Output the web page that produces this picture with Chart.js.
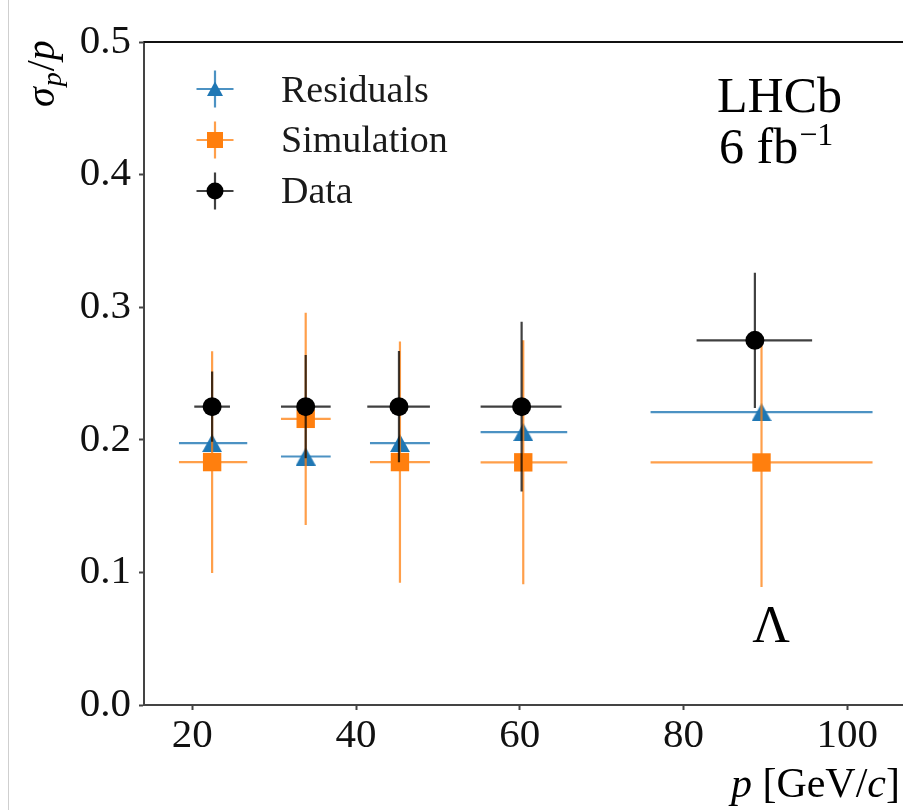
<!DOCTYPE html>
<html><head><meta charset="utf-8">
<script src="https://cdn.jsdelivr.net/npm/chart.js@4"></script>
<style>html,body{margin:0;padding:0;background:#fff;overflow:hidden}#wrap{position:relative;width:903px;height:810px}</style>
</head><body><div id="wrap"><canvas id="c" width="903" height="810"></canvas></div>
<script>
// ---- data ----
const seriesNames = ['Residuals', 'Simulation', 'Data'];
// Residuals & Simulation share the momentum bins
const binP      = [22.42, 33.85, 45.36, 60.42, 89.52];
const binPLow   = [4.05, 3.02, 3.66, 5.21, 13.55];
const binPHigh  = [4.29, 3.05, 3.66, 5.37, 13.56];
const resSigma    = [0.1975, 0.1874, 0.1975, 0.2058, 0.2208];
const resSigmaErr = [0.004, 0.004, 0.004, 0.004, 0.004];
const simSigma    = [0.1832, 0.2158, 0.1832, 0.1830, 0.1829];
const simSigmaErr = [0.0836, 0.0800, 0.0910, 0.0920, 0.0940];
const dataP       = [22.42, 33.85, 45.24, 60.22, 88.71];
const dataPLow    = [2.18, 3.02, 3.87, 5.01, 7.12];
const dataPHigh   = [2.18, 3.05, 3.78, 4.88, 6.99];
const dataSigma    = [0.225, 0.225, 0.225, 0.225, 0.275];
const dataSigmaErr = [0.0265, 0.039, 0.042, 0.064, 0.051];
const xTicks = [20, 40, 60, 80, 100];
const xTickLabels = ['20', '40', '60', '80', '100'];
const yTicks = [0, 0.1, 0.2, 0.3, 0.4, 0.5];
const yTickLabels = ['0.0', '0.1', '0.2', '0.3', '0.4', '0.5'];

const BLUE = '#1f77b4', ORANGE = '#ff7f0e', BLACK = '#000000';
const SERIF = '"Liberation Serif", "DejaVu Serif", serif';

function triangleImage(w, h, color) {
  const cv = document.createElement('canvas');
  cv.width = w; cv.height = h;
  const g = cv.getContext('2d');
  g.fillStyle = color;
  g.beginPath(); g.moveTo(w / 2, 0); g.lineTo(w, h); g.lineTo(0, h); g.closePath(); g.fill();
  return cv;
}
const triImg = triangleImage(20, 18, BLUE);

const datasets = [
  { label: seriesNames[0], data: binP.map((p, i) => ({ x: p, y: resSigma[i] })),
    pointStyle: triImg, pointRadius: 10, backgroundColor: BLUE, borderWidth: 0, order: 3,
    xLow: binPLow, xHigh: binPHigh, yErr: resSigmaErr, errColor: 'rgba(31,119,180,0.8)' },
  { label: seriesNames[1], data: binP.map((p, i) => ({ x: p, y: simSigma[i] })),
    pointStyle: 'rect', pointRadius: 13, backgroundColor: ORANGE, borderWidth: 0, order: 2,
    xLow: binPLow, xHigh: binPHigh, yErr: simSigmaErr, errColor: 'rgba(255,127,14,0.75)' },
  { label: seriesNames[2], data: dataP.map((p, i) => ({ x: p, y: dataSigma[i] })),
    pointStyle: 'circle', pointRadius: 9.5, backgroundColor: BLACK, borderWidth: 0, order: 1,
    xLow: dataPLow, xHigh: dataPHigh, yErr: dataSigmaErr, errColor: 'rgba(0,0,0,0.75)' }
];

const errorBars = {
  id: 'errorBars',
  beforeDatasetDraw(chart, args) {
    const ds = chart.data.datasets[args.index];
    const xs = chart.scales.x, ys = chart.scales.y, ctx = chart.ctx;
    ctx.save();
    ctx.strokeStyle = ds.errColor; ctx.lineWidth = 2.2;
    ds.data.forEach((pt, i) => {
      const px = xs.getPixelForValue(pt.x), py = ys.getPixelForValue(pt.y);
      const x1 = xs.getPixelForValue(pt.x - ds.xLow[i]), x2 = xs.getPixelForValue(pt.x + ds.xHigh[i]);
      const y1 = ys.getPixelForValue(pt.y - ds.yErr[i]), y2 = ys.getPixelForValue(pt.y + ds.yErr[i]);
      ctx.beginPath();
      ctx.moveTo(x1, py); ctx.lineTo(x2, py);
      ctx.moveTo(px, y1); ctx.lineTo(px, y2);
      ctx.stroke();
    });
    ctx.restore();
  }
};

const decorations = {
  id: 'decorations',
  afterDraw(chart) {
    const ctx = chart.ctx, ca = chart.chartArea;
    ctx.save();
    // top frame
    ctx.strokeStyle = '#111'; ctx.lineWidth = 2;
    ctx.beginPath(); ctx.moveTo(ca.left, ca.top); ctx.lineTo(chart.width, ca.top); ctx.stroke();
    // faint left page edge
    ctx.strokeStyle = '#cfcfcf'; ctx.lineWidth = 1;
    ctx.beginPath(); ctx.moveTo(8.5, 0); ctx.lineTo(8.5, chart.height); ctx.stroke();

    ctx.fillStyle = '#000';
    ctx.textBaseline = 'alphabetic';
    // y title  sigma_p / p
    ctx.save();
    ctx.translate(54, 107);
    ctx.rotate(-Math.PI / 2);
    ctx.textAlign = 'left';
    let x = 0;
    ctx.font = 'italic 40px ' + SERIF; ctx.fillText('σ', x, 0); x += ctx.measureText('σ').width;
    ctx.font = 'italic 28px ' + SERIF; ctx.fillText('p', x + 1, 7); x += ctx.measureText('p').width + 2;
    ctx.font = '40px ' + SERIF; ctx.fillText('/', x, 0); x += ctx.measureText('/').width;
    ctx.font = 'italic 40px ' + SERIF; ctx.fillText('p', x, 0);
    ctx.restore();

    // x title  p [GeV/c]
    const parts = [['italic 42px ', 'p'], ['42px ', ' [GeV/'], ['italic 42px ', 'c'], ['42px ', ']']];
    let total = 0;
    parts.forEach(pt => { ctx.font = pt[0] + SERIF; total += ctx.measureText(pt[1]).width; });
    x = 900 - total;
    ctx.textAlign = 'left';
    parts.forEach(pt => { ctx.font = pt[0] + SERIF; ctx.fillText(pt[1], x, 797); x += ctx.measureText(pt[1]).width; });

    // legend
    const ly = [89, 140, 191], lx = 215, base = [102, 152, 203];
    chart.data.datasets.forEach((ds, i) => {
      ctx.strokeStyle = ds.errColor; ctx.lineWidth = 2.2;
      ctx.beginPath();
      ctx.moveTo(lx - 18.5, ly[i]); ctx.lineTo(lx + 18.5, ly[i]);
      ctx.moveTo(lx, ly[i] - 18.5); ctx.lineTo(lx, ly[i] + 18.5);
      ctx.stroke();
      ctx.fillStyle = ds.backgroundColor;
      ctx.beginPath();
      if (i === 0) { ctx.moveTo(lx, ly[i] - 7.5); ctx.lineTo(lx + 8, ly[i] + 7); ctx.lineTo(lx - 8, ly[i] + 7); ctx.closePath(); }
      else if (i === 1) { ctx.rect(lx - 8, ly[i] - 8, 16, 16); }
      else { ctx.arc(lx, ly[i], 8.5, 0, Math.PI * 2); }
      ctx.fill();
      ctx.fillStyle = '#1a1a1a';
      ctx.font = '38px ' + SERIF;
      ctx.fillText(ds.label, 281, base[i]);
    });

    // LHCb label
    ctx.fillStyle = '#000';
    ctx.font = '50px ' + SERIF;
    ctx.fillText('LHCb', 717, 112);
    ctx.fillText('6 fb', 719, 163);
    const w6 = ctx.measureText('6 fb').width;
    ctx.font = '32px ' + SERIF;
    ctx.fillText('−1', 719 + w6 + 1, 145);

    // Lambda label
    ctx.font = '52px ' + SERIF;
    ctx.textAlign = 'center';
    ctx.fillText('Λ', chart.scales.x.getPixelForValue(90.7), chart.scales.y.getPixelForValue(0.0475));
    ctx.restore();
  }
};

new Chart(document.getElementById('c'), {
  type: 'scatter',
  data: { datasets },
  options: {
    responsive: false, animation: false, devicePixelRatio: 1, events: [],
    layout: { autoPadding: false, padding: { top: 42, right: 0, left: 0, bottom: 0 } },
    plugins: { legend: { display: false }, tooltip: { enabled: false } },
    scales: {
      x: {
        type: 'linear', min: 14.1, max: 106.8,
        afterFit: s => { s.height = 105; },
        afterBuildTicks: s => { s.ticks = xTicks.map(v => ({ value: v })); },
        grid: { drawOnChartArea: false, drawTicks: true, tickLength: 5, tickWidth: 2, tickColor: '#444' },
        border: { display: true, color: '#444', width: 2 },
        ticks: { padding: 2, color: '#111', font: { family: SERIF, size: 41 },
          maxRotation: 0, autoSkip: false,
          callback: v => { const k = xTicks.indexOf(v); return k >= 0 ? xTickLabels[k] : ''; } }
      },
      y: {
        type: 'linear', min: 0, max: 0.5,
        afterFit: s => { s.width = 144; },
        afterBuildTicks: s => { s.ticks = yTicks.map(v => ({ value: v })); },
        grid: { drawOnChartArea: false, drawTicks: true, tickLength: 5, tickWidth: 2, tickColor: '#444' },
        border: { display: true, color: '#444', width: 2 },
        ticks: { padding: 8, color: '#111', font: { family: SERIF, size: 41 }, autoSkip: false,
          callback: v => { const k = yTicks.findIndex(t => Math.abs(t - v) < 1e-9); return k >= 0 ? yTickLabels[k] : ''; } }
      }
    }
  },
  plugins: [errorBars, decorations]
});
</script></body></html>
